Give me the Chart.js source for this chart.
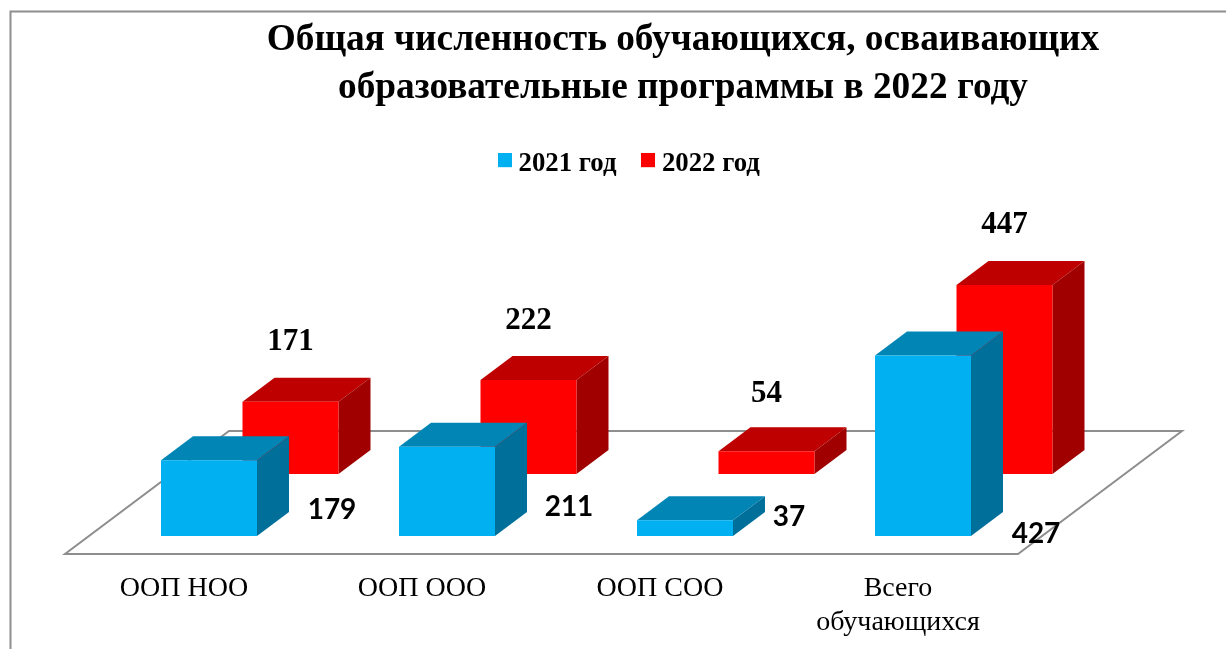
<!DOCTYPE html>
<html>
<head>
<meta charset="utf-8">
<script src="https://cdn.jsdelivr.net/npm/chart.js@4"></script>
<style>
html,body{margin:0;padding:0;background:#fff;overflow:hidden}
#wrap{position:absolute;left:0;top:0;width:1226px;height:649px}
</style>
</head>
<body>
<div id="wrap"><canvas id="c" width="1226" height="649"></canvas></div>
<script>
const categories = ["ООП НОО", "ООП ООО", "ООП СОО", ["Всего", "обучающихся"]];
const series2021 = [179, 211, 37, 427];
const series2022 = [171, 222, 54, 447];
const titleLines = ["Общая численность обучающихся, осваивающих", "образовательные программы в 2022 году"];
const seriesNames = ["2021 год", "2022 год"];

// 3D projection settings
const BAR_DEPTH = {x: 32, y: -24};
const ROW_SHIFT = [{x: 0, y: 0}, {x: 81.5, y: -62}];
const FACE_COLORS = [
  {front: "#00B0F0", top: "#0085B5", side: "#00709A"},
  {front: "#FF0000", top: "#BF0000", side: "#A00000"}
];
const LABEL_OFFSETS = [
  [{x: 123, y: -26}, {x: 122, y: -29}, {x: 104, y: -19}, {x: 113, y: -2}],
  [{x: 0, y: -60}, {x: 0, y: -59}, {x: 0, y: -57}, {x: 0, y: -60}]
];

function legendMarker(color) {
  const m = document.createElement("canvas");
  m.width = 14; m.height = 22;
  const g = m.getContext("2d");
  g.fillStyle = color;
  g.fillRect(0, 0, 14, 14);
  return m;
}

const scene3d = {
  id: "scene3d",
  afterLayout(chart) {
    chart.titleBlock.left += 117; chart.titleBlock.right += 117;
    chart.legend.left += 66; chart.legend.right += 66;
  },
  beforeDatasetsDraw(chart) {
    const {ctx, chartArea: a, scales: {y}} = chart;
    const base = y.getPixelForValue(0);
    ctx.save();
    ctx.strokeStyle = "#8E8E8E";
    ctx.lineWidth = 2;
    ctx.lineJoin = "miter";
    ctx.beginPath();
    ctx.moveTo(a.left - 25, base + 18);
    ctx.lineTo(a.right - 24, base + 18);
    ctx.lineTo(a.right + 140, base - 105);
    ctx.lineTo(a.left + 139, base - 105);
    ctx.closePath();
    ctx.stroke();
    ctx.restore();
  },
  beforeDatasetDraw(chart, args) {
    const {ctx} = chart;
    const s = ROW_SHIFT[args.index], col = FACE_COLORS[args.index];
    ctx.save();
    ctx.translate(s.x, s.y);
    args.meta.data.forEach(el => {
      const p = el.getProps(["x", "y", "base", "width"], true);
      const l = p.x - p.width / 2, r = p.x + p.width / 2;
      ctx.fillStyle = col.top;
      ctx.beginPath();
      ctx.moveTo(l, p.y); ctx.lineTo(l + BAR_DEPTH.x, p.y + BAR_DEPTH.y);
      ctx.lineTo(r + BAR_DEPTH.x, p.y + BAR_DEPTH.y); ctx.lineTo(r, p.y);
      ctx.closePath(); ctx.fill();
      ctx.fillStyle = col.side;
      ctx.beginPath();
      ctx.moveTo(r, p.y); ctx.lineTo(r + BAR_DEPTH.x, p.y + BAR_DEPTH.y);
      ctx.lineTo(r + BAR_DEPTH.x, p.base + BAR_DEPTH.y); ctx.lineTo(r, p.base);
      ctx.closePath(); ctx.fill();
    });
  },
  afterDatasetDraw(chart) {
    chart.ctx.restore();
  },
  afterDatasetsDraw(chart) {
    const {ctx} = chart;
    ctx.save();
    ctx.fillStyle = "#000";
    ctx.textAlign = "center";
    ctx.textBaseline = "middle";
    chart.data.datasets.forEach((ds, i) => {
      ctx.font = i === 0 ? 'bold 28px Lato' : 'bold 31px "Liberation Serif"';
      chart.getDatasetMeta(i).data.forEach((el, j) => {
        const o = LABEL_OFFSETS[i][j];
        const py = i === 0 ? el.base + o.y : el.y + ROW_SHIFT[i].y + o.y;
        ctx.fillText(String(ds.data[j]), el.x + ROW_SHIFT[i].x + o.x, py);
      });
    });
    ctx.restore();
    // outer frame: top and left edges only
    ctx.save();
    ctx.strokeStyle = "#8E8E8E";
    ctx.lineWidth = 2;
    ctx.beginPath();
    ctx.moveTo(10.5, 649); ctx.lineTo(10.5, 11.5); ctx.lineTo(1226, 11.5);
    ctx.stroke();
    ctx.restore();
  }
};

new Chart(document.getElementById("c"), {
  type: "bar",
  data: {
    labels: categories,
    datasets: [
      {label: seriesNames[0], data: series2021, backgroundColor: FACE_COLORS[0].front, borderWidth: 0},
      {label: seriesNames[1], data: series2022, backgroundColor: FACE_COLORS[1].front, borderWidth: 0}
    ]
  },
  options: {
    responsive: false,
    animation: false,
    layout: {padding: {left: 90, right: 184, top: 0, bottom: 0}},
    datasets: {bar: {grouped: false, categoryPercentage: 1, barPercentage: 96 / 238}},
    scales: {
      x: {
        grid: {display: false}, border: {display: false},
        afterFit(s) { s.height = 113; },
        ticks: {
          autoSkip: false, maxRotation: 0, minRotation: 0, labelOffset: -25, padding: 28, color: "#000",
          font: {family: '"Liberation Serif"', size: 28, lineHeight: 1.2}
        }
      },
      y: {display: false, min: 0, max: 824, beginAtZero: true}
    },
    plugins: {
      tooltip: {enabled: false},
      title: {
        display: true, text: titleLines, color: "#000",
        font: {family: '"Liberation Serif"', size: 37.3, weight: "bold", lineHeight: 1.27},
        padding: {top: 17, bottom: 8}
      },
      legend: {
        display: true, position: "top",
        labels: {
          usePointStyle: true, pointStyleWidth: 1, boxHeight: 22, padding: 31, color: "#000",
          font: {family: '"Liberation Serif"', size: 26.8, weight: "bold"},
          generateLabels(chart) {
            const items = Chart.defaults.plugins.legend.labels.generateLabels(chart);
            items.forEach((it, i) => { it.pointStyle = legendMarker(FACE_COLORS[i].front); });
            return items;
          }
        }
      }
    }
  },
  plugins: [scene3d]
});
</script>
</body>
</html>
